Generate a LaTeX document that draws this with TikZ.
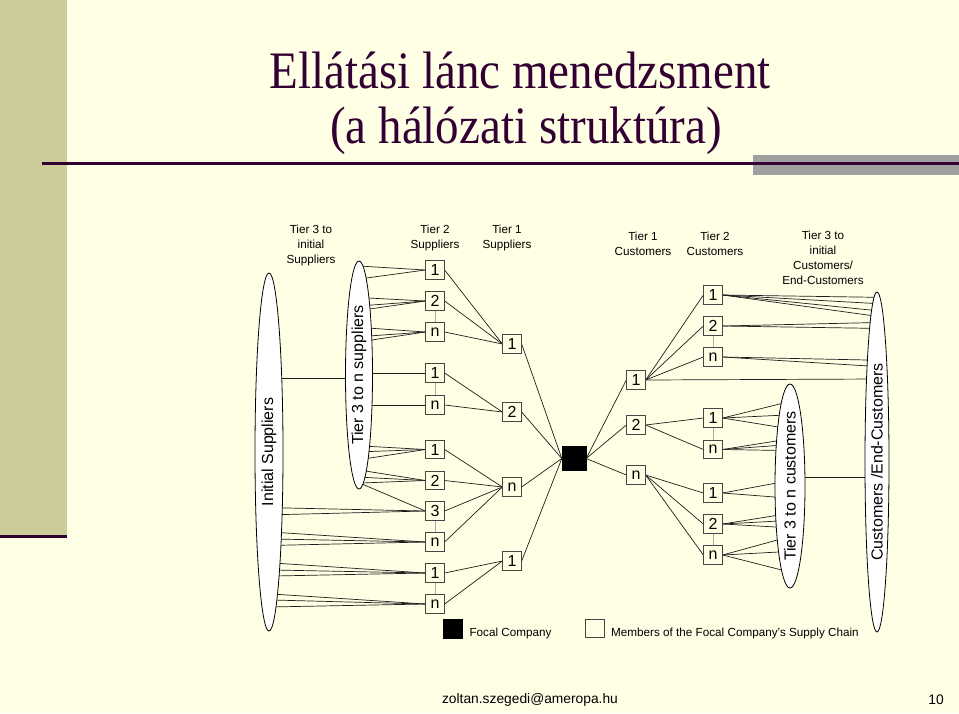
\documentclass[tikz,border=0pt]{standalone}
\usepackage{fontspec}
\setmainfont{Liberation Sans}
\newfontfamily\titlefont{Liberation Serif}
\usetikzlibrary{shapes.geometric,backgrounds}
\definecolor{cream}{RGB}{255,255,229}
\definecolor{band}{RGB}{204,204,153}
\definecolor{ttl}{RGB}{51,0,51}
\definecolor{grayrect}{RGB}{160,160,160}
\definecolor{boxgray}{RGB}{70,70,70}
\definecolor{linec}{RGB}{30,30,30}
\definecolor{lightg}{RGB}{170,170,170}
\begin{document}
\begin{tikzpicture}[x=1pt,y=-1pt,
  bx/.style={draw=boxgray, fill=cream, line width=0.8pt, minimum size=18.5pt, inner sep=0pt, font=\fontsize{16}{16}\selectfont},
  focal/.style={fill=black, draw=black, minimum size=24pt, inner sep=0pt},
  lnk/.style={draw=linec, line width=0.7pt},
  glnk/.style={draw=lightg, line width=1pt},
  hdr/.style={align=center, inner sep=0pt, font=\fontsize{11.7}{15}\selectfont},
  ell/.style={ellipse, draw=black, fill=white, line width=0.8pt, inner sep=0pt},
  elab/.style={rotate=90, inner sep=0pt, font=\fontsize{16}{19}\selectfont},
  leg/.style={anchor=base west, inner sep=0pt, font=\fontsize{11.7}{14}\selectfont}
]
\useasboundingbox (0,0) rectangle (959,713);
\begin{scope}[on background layer]
\fill[cream] (0,0) rectangle (959,713);
\fill[band] (0,0) rectangle (67,536);
\end{scope}
% slide decoration
\draw[ttl, line width=3pt] (0,536) -- (67,536);
\fill[grayrect] (753,155) rectangle (959,175);
\draw[ttl, line width=3pt] (42,163) -- (959,163);
\node[anchor=base, inner sep=0pt, text=ttl, font=\titlefont\fontsize{47}{50}\selectfont] (t1) at (520,88) {\scalebox{1}[1.12]{Ellátási lánc menedzsment}};
\node[anchor=base, inner sep=0pt, text=ttl, font=\titlefont\fontsize{47}{50}\selectfont] (t2) at (526,143) {\scalebox{1}[1.12]{(a hálózati struktúra)}};
% headers
\node[hdr] (h1) at (311,245) {Tier 3 to\\initial\\Suppliers};
\node[hdr] (h2) at (435,238) {Tier 2\\Suppliers};
\node[hdr] (h3) at (507,238) {Tier 1\\Suppliers};
\node[hdr] (h4) at (643,244) {Tier 1\\Customers};
\node[hdr] (h5) at (715,244) {Tier 2\\Customers};
\node[hdr] (h6) at (823,257.5) {Tier 3 to\\initial\\Customers/\\End-Customers};
% ellipses
\node[ell, minimum width=28pt, minimum height=358pt] (isup) at (269,452) {};
\node[elab] (isupl) at (isup.center) {Initial Suppliers};
\node[ell, minimum width=27pt, minimum height=228pt] (tsup) at (359,375) {};
\node[elab] (tsupl) at (tsup.center) {Tier 3 to n suppliers};
\node[ell, minimum width=30pt, minimum height=204pt] (tcus) at (790,486) {};
\node[elab] (tcusl) at (tcus.center) {Tier 3 to n customers};
\node[ell, minimum width=24pt, minimum height=340pt] (eend) at (877,462) {};
\node[elab] (eendl) at (eend.center) {Customers /End-Customers};
% tier 2 suppliers
\node[bx] (s2a) at (435,270) {1};
\node[bx] (s2b) at (435,301) {2};
\node[bx] (s2c) at (435,332) {n};
\node[bx] (s2d) at (435,373) {1};
\node[bx] (s2e) at (435,405) {n};
\node[bx] (s2f) at (435,449.5) {1};
\node[bx] (s2g) at (435,480.5) {2};
\node[bx] (s2h) at (435,511) {3};
\node[bx] (s2i) at (435,542) {n};
\node[bx] (s2j) at (435,573) {1};
\node[bx] (s2k) at (435,604) {n};
% tier 1 suppliers
\node[bx] (s1a) at (512,344) {1};
\node[bx] (s1b) at (512,412) {2};
\node[bx] (s1c) at (512,487) {n};
\node[bx] (s1d) at (512,561) {1};
% focal
\node[focal] (fc) at (574,458.5) {};
% tier 1 customers
\node[bx] (c1a) at (636,380) {1};
\node[bx] (c1b) at (636,425) {2};
\node[bx] (c1c) at (636,475) {n};
% tier 2 customers
\node[bx] (c2a) at (713,295) {1};
\node[bx] (c2b) at (713,326) {2};
\node[bx] (c2c) at (713,357) {n};
\node[bx] (c2d) at (713,418) {1};
\node[bx] (c2e) at (713,449.5) {n};
\node[bx] (c2f) at (713,493) {1};
\node[bx] (c2g) at (713,524) {2};
\node[bx] (c2h) at (713,555) {n};
% legend
\node[fill=black, draw=black, minimum size=18.5pt, inner sep=0pt] (lfc) at (452.5,628.5) {};
\node[leg] (lfct) at (469.3,636.5) {Focal Company};
\node[draw=boxgray, fill=cream, line width=0.8pt, minimum size=18.5pt, inner sep=0pt] (lmb) at (595,628.5) {};
\node[leg] (lmbt) at (611,636.5) {Members of the Focal Company's Supply Chain};
% footer
\node[inner sep=0pt, font=\fontsize{13.8}{16}\selectfont] (mail) at (530,700) {zoltan.szegedi@ameropa.hu};
\node[inner sep=0pt, font=\fontsize{13.8}{16}\selectfont] (pg) at (936,700) {10};
% connectors
\begin{scope}[on background layer]
\foreach \a/\b in {s2a/s1a,s2b/s1a,s2c/s1a,s2d/s1b,s2e/s1b,s2f/s1c,s2g/s1c,s2h/s1c,s2i/s1c,s2j/s1d,s2k/s1d}
  \draw[lnk] (\a.east) -- (\b.west);
\foreach \a in {s1a,s1b,s1c,s1d} \draw[lnk] (\a.east) -- (fc.west);
\foreach \b in {c1a,c1b,c1c} \draw[lnk] (fc.east) -- (\b.west);
\foreach \a/\b in {c1a/c2a,c1a/c2b,c1a/c2c,c1b/c2d,c1b/c2e,c1c/c2f,c1c/c2g,c1c/c2h}
  \draw[lnk] (\a.east) -- (\b.west);
\foreach \a/\d in {s2a/109, s2a/96, s2b/77.5, s2b/69, s2b/64.5, s2c/47.6, s2c/38.3, s2c/33.1, s2d/2, s2e/-30, s2f/-70.8, s2f/-76.9, s2f/-84.7, s2g/-95, s2g/-102.1, s2g/-108.1, s2h/-107.7}
  \draw[lnk] (\a.west) -- ([yshift=\d pt]tsup.center);
\foreach \a/\d in {s2h/-55.6, s2h/-62.9, s2i/-79.9, s2i/-86.9, s2i/-93.5, s2j/-110.7, s2j/-117.9, s2j/-124.1, s2k/-141.8, s2k/-147.9, s2k/-155}
  \draw[lnk] (\a.west) -- ([yshift=\d pt]isup.center);
\draw[lnk] ([yshift=74pt]isup.center) -- ([yshift=-3pt]tsup.center);
\foreach \a/\d in {c2a/164.7, c2a/158.4, c2a/151.3, c2a/145.7, c2b/139.5, c2b/133.6, c2c/101.8, c2c/95.5, c1a/83}
  \draw[lnk] (\a.east) -- ([yshift=\d pt]eend.center);
\foreach \a/\d in {c2d/84.5, c2d/71.2, c2d/57.1, c2e/47.2, c2e/41.5, c2e/35.4, c2f/5.5, c2f/-12.2, c2g/-27.3, c2g/-34.4, c2g/-41.8, c2h/-50.5, c2h/-65.4, c2h/-86.1}
  \draw[lnk] (\a.east) -- ([yshift=\d pt]tcus.center);
\draw[lnk] ([yshift=8.3pt]tcus.center) -- ([yshift=-15.7pt]eend.center);
\foreach \a/\b in {s2b/s2c, s2d/s2e, s2h/s2i, s2j/s2k, c2b/c2c, c2d/c2e, c2g/c2h}
  \draw[glnk] (\a.south) -- (\b.north);
\end{scope}
\end{tikzpicture}
\end{document}
